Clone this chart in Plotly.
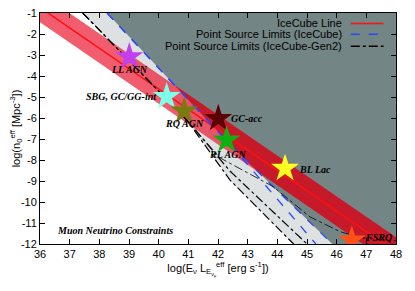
import plotly.graph_objects as go

# ---------------- data ----------------
x_ticks = [36, 37, 38, 39, 40, 41, 42, 43, 44, 45, 46, 47, 48]
y_ticks = [-1, -2, -3, -4, -5, -6, -7, -8, -9, -10, -11, -12]

# IceCube line and its band
ice_x = [36.0, 48.0]
ice_y = [-0.74, -12.38]
band_upper = [-0.04, -11.68]
band_lower = [-1.44, -13.08]

# Point source limits (IceCube) - blue dashed
ps_ic_a_x = [38.26, 41.16, 42.5, 45.3]
ps_ic_a_y = [-1.0, -5.38, -7.4, -12.0]
ps_ic_b_x = [38.26, 41.16, 42.5, 45.85]
ps_ic_b_y = [-1.0, -5.38, -7.4, -12.0]

# Point source limits (IceCube-Gen2) - black dash-dot
ps_g2_a_x = [37.44, 40.95, 42.4, 44.55]
ps_g2_a_y = [-1.0, -6.1, -8.95, -12.0]
ps_g2_b_x = [37.44, 40.95, 42.4, 45.0]
ps_g2_b_y = [-1.0, -6.1, -8.52, -12.0]
ps_g2_c_x = [37.44, 40.95, 42.07, 43.86, 45.1, 46.11, 46.8, 48.0]
ps_g2_c_y = [-1.0, -6.1, -7.9, -9.27, -10.71, -11.41, -11.7, -11.85]

# sources
src_names = ["LL AGN", "SBG, GC/GG-int", "RQ AGN", "GC-acc", "RL AGN", "BL Lac", "FSRQ"]
src_x = [39.01, 40.27, 40.86, 42.01, 42.29, 44.26, 46.51]
src_y = [-3.08, -4.98, -5.67, -6.02, -7.05, -8.40, -11.81]
src_colors = ["#c040f0", "#80ffe8", "#7a7a10", "#5a0000", "#10b010", "#ffff20", "#ff5018"]


# ---------------- helpers ----------------
def clip_polygon(subject, clipper):
    """Sutherland-Hodgman clipping of polygon `subject` by convex polygon `clipper`."""
    def area(poly):
        s = 0.0
        for i in range(len(poly)):
            x1, y1 = poly[i]
            x2, y2 = poly[(i + 1) % len(poly)]
            s += x1 * y2 - x2 * y1
        return s / 2
    sign = 1 if area(clipper) > 0 else -1

    def inside(p, a, b):
        return sign * ((b[0] - a[0]) * (p[1] - a[1]) - (b[1] - a[1]) * (p[0] - a[0])) >= 0

    def inter(p, q, a, b):
        x1, y1 = p; x2, y2 = q; x3, y3 = a; x4, y4 = b
        den = (x1 - x2) * (y3 - y4) - (y1 - y2) * (x3 - x4)
        t = ((x1 - x3) * (y3 - y4) - (y1 - y3) * (x3 - x4)) / den
        return (x1 + t * (x2 - x1), y1 + t * (y2 - y1))

    out = list(subject)
    for i in range(len(clipper)):
        a, b = clipper[i], clipper[(i + 1) % len(clipper)]
        inp, out = out, []
        if not inp:
            break
        s = inp[-1]
        for e in inp:
            if inside(e, a, b):
                if not inside(s, a, b):
                    out.append(inter(s, e, a, b))
                out.append(e)
            elif inside(s, a, b):
                out.append(inter(s, e, a, b))
            s = e
    return out


# ---------------- figure ----------------
fig = go.Figure()

DARK = "#748585"
LIGHT = "#dde1e1"

# light gray region (between Gen2 and IceCube limits)
fig.add_trace(go.Scatter(
    x=ps_g2_a_x + ps_ic_b_x[::-1],
    y=ps_g2_a_y + ps_ic_b_y[::-1],
    fill="toself", fillcolor=LIGHT, line=dict(width=0), mode="lines",
    hoverinfo="skip", showlegend=False))

# dark gray excluded region
dark_x = ps_ic_b_x + [48.5, 48.5]
dark_y = ps_ic_b_y + [-12.0, -1.0]
fig.add_trace(go.Scatter(
    x=dark_x + [dark_x[0]], y=dark_y + [dark_y[0]],
    fill="toself", fillcolor=DARK, line=dict(width=0), mode="lines",
    hoverinfo="skip", showlegend=False))

# IceCube band (pinkish where over white / light gray)
band_poly = list(zip(ice_x + ice_x[::-1], band_upper + band_lower[::-1]))
fig.add_trace(go.Scatter(
    x=[p[0] for p in band_poly] + [band_poly[0][0]],
    y=[p[1] for p in band_poly] + [band_poly[0][1]],
    fill="toself", fillcolor="rgba(236,30,55,0.72)", line=dict(width=0),
    mode="lines", hoverinfo="skip", showlegend=False))

# dark red part of the band over the excluded region
dark_poly = list(zip(dark_x, dark_y))
over = clip_polygon(band_poly, dark_poly)
if over:
    fig.add_trace(go.Scatter(
        x=[p[0] for p in over] + [over[0][0]],
        y=[p[1] for p in over] + [over[0][1]],
        fill="toself", fillcolor="#c61a2a", line=dict(width=0),
        mode="lines", hoverinfo="skip", showlegend=False))

# IceCube line
fig.add_trace(go.Scatter(x=ice_x, y=ice_y, mode="lines",
                         line=dict(color="#ff1010", width=1.5), showlegend=False))

# blue dashed limits
for xs, ys in [(ps_ic_a_x, ps_ic_a_y), (ps_ic_b_x, ps_ic_b_y)]:
    fig.add_trace(go.Scatter(x=xs, y=ys, mode="lines",
                             line=dict(color="#2848ff", width=1.3, dash="dash"),
                             showlegend=False))

# black dash-dot limits
for xs, ys, w in [(ps_g2_a_x, ps_g2_a_y, 1.2), (ps_g2_b_x, ps_g2_b_y, 1.2), (ps_g2_c_x, ps_g2_c_y, 0.8)]:
    fig.add_trace(go.Scatter(x=xs, y=ys, mode="lines",
                             line=dict(color="black", width=w, dash="dashdot"),
                             showlegend=False))

# source stars
fig.add_trace(go.Scatter(x=src_x, y=src_y, mode="markers",
                         marker=dict(symbol="star", size=21, color=src_colors,
                                     line=dict(width=0)),
                         showlegend=False))

# source labels
lab_font = dict(family="Liberation Serif", size=10, color="black")
label_pos = {
    "LL AGN": (0, 13, "center"),
    "SBG, GC/GG-int": (-8, 0, "right"),
    "RQ AGN": (0, 12, "center"),
    "GC-acc": (11, 0, "left"),
    "RL AGN": (1, 14, "center"),
    "BL Lac": (12, 1, "left"),
    "FSRQ": (11, -3, "left"),
}
for n, x, y in zip(src_names, src_x, src_y):
    dx, dy, al = label_pos[n]
    fig.add_annotation(x=x, y=y, text="<b><i>%s</i></b>" % n, showarrow=False,
                       xshift=dx, yshift=-dy, xanchor=al, yanchor="middle",
                       font=lab_font)

fig.add_annotation(x=38.53, y=-11.35, text="<b><i>Muon Neutrino Constraints</i></b>",
                   showarrow=False, font=lab_font, xanchor="center", yanchor="middle")

# custom legend (text right, sample line to its right)
leg_font = dict(family="Liberation Sans", size=11, color="black")
leg_items = [
    ("IceCube Line", "#ff1010", "solid", 0.955),
    ("Point Source Limits (IceCube)", "#2848ff", "dash", 0.908),
    ("Point Source Limits (IceCube-Gen2)", "black", "dashdot", 0.856),
]
for txt, col, dsh, yy in leg_items:
    fig.add_annotation(xref="paper", yref="paper", x=0.853, y=yy, text=txt,
                       showarrow=False, xanchor="right", yanchor="middle", font=leg_font)
    fig.add_shape(type="line", xref="paper", yref="paper", x0=0.873, x1=0.965,
                  y0=yy, y1=yy, line=dict(color=col, width=1.5, dash=dsh))

axis_common = dict(showgrid=False, zeroline=False, ticks="inside", ticklen=5,
                   tickcolor="black", linecolor="black", linewidth=1, mirror="ticks",
                   showline=True, automargin=False, ticklabeloverflow="allow",
                   tickfont=dict(family="Liberation Sans", size=11, color="black"))

fig.update_xaxes(range=[36, 48], tickvals=x_ticks, ticktext=[str(v) for v in x_ticks],
                 title=dict(text="log(E<sub>ν</sub> L<sub>E<sub>ν<sub>μ</sub></sub></sub><sup>eff</sup> [erg s<sup>-1</sup>])",
                            font=dict(family="Liberation Sans", size=11, color="black"),
                            standoff=4),
                 **axis_common)
fig.update_yaxes(range=[-12, -1], tickvals=y_ticks, ticktext=[str(v) for v in y_ticks],
                 title=dict(text="log(n<sub>0</sub><sup>eff</sup> [Mpc<sup>-3</sup>])",
                            font=dict(family="Liberation Sans", size=11, color="black"),
                            standoff=4),
                 **axis_common)

# page body has an 8px default margin, so the figure is sized to fit the window
fig.update_layout(width=407, height=283, margin=dict(l=32, r=19, t=5, b=47),
                  plot_bgcolor="white", paper_bgcolor="white", showlegend=False)

fig.write_html("out.html")
